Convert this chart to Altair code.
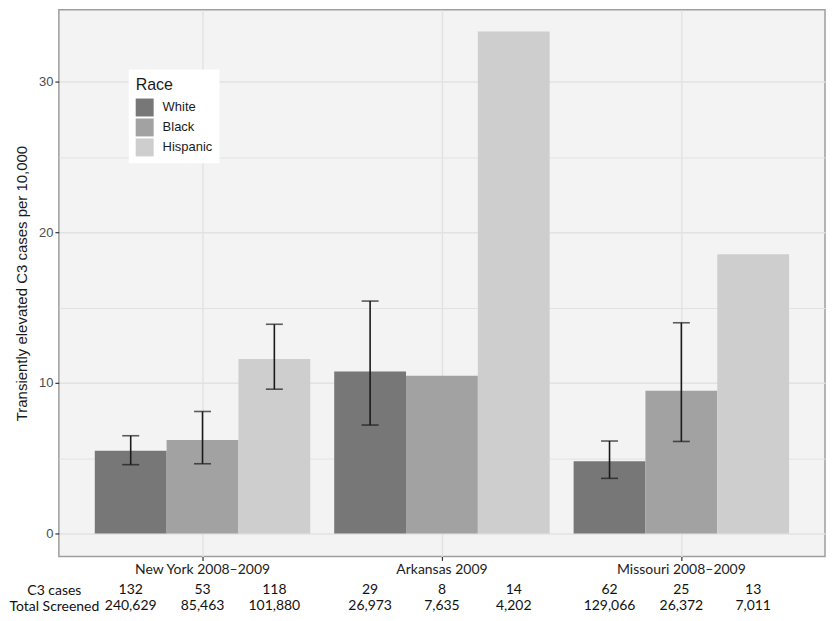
import altair as alt
import pandas as pd

regions = ["New York 2008–2009", "Arkansas 2009", "Missouri 2008–2009"]
races = ["White", "Black", "Hispanic"]
race_colors = ["#777777", "#a2a2a2", "#cecece"]

# rate per 10,000, by region then race
rates = [[5.49, 6.20, 11.58],
         [10.75, 10.48, 33.32],
         [4.80, 9.48, 18.54]]
err_low = [[4.57, 4.63, 9.58],
           [7.20, None, None],
           [3.66, 6.11, None]]
err_high = [[6.49, 8.10, 13.89],
            [15.43, None, None],
            [6.14, 13.99, None]]

row_labels = ["C3 cases", "Total Screened"]
c3_cases = [[132, 53, 118], [29, 8, 14], [62, 25, 13]]
total_screened = [[240629, 85463, 101880], [26973, 7635, 4202], [129066, 26372, 7011]]

bars_rows, err_rows, table_rows = [], [], []
for i, reg in enumerate(regions):
    for j, race in enumerate(races):
        bars_rows.append({"region": reg, "race": race, "rate": rates[i][j]})
        if err_low[i][j] is not None:
            err_rows.append({"region": reg, "race": race,
                             "lo": err_low[i][j], "hi": err_high[i][j]})
        table_rows.append({"row": row_labels[0], "region": reg, "race": race, "value": c3_cases[i][j]})
        table_rows.append({"row": row_labels[1], "region": reg, "race": race, "value": total_screened[i][j]})

bars_df = pd.DataFrame(bars_rows)
err_df = pd.DataFrame(err_rows)
table_df = pd.DataFrame(table_rows)

SANS = "Liberation Sans"
NARROW = "Lato"

x_scale = alt.Scale(paddingInner=0, paddingOuter=0.1)
off_scale = alt.Scale(paddingInner=0, paddingOuter=1 / 6)

x_axis = alt.Axis(domain=False, tickSize=4, tickColor="#333333", tickWidth=1.2,
                  labelFont=NARROW, labelFontSize=14, labelColor="#222222",
                  labelPadding=2, labelAngle=0, bandPosition=0.5,
                  grid=True, gridColor="#e2e2e2", gridWidth=1.4)
x_enc = alt.X("region:N", sort=regions, scale=x_scale, title=None, axis=x_axis)
x_enc_table = alt.X("region:N", sort=regions, scale=x_scale, axis=None)
off_enc = alt.XOffset("race:N", sort=races, scale=off_scale)

y_scale = alt.Scale(domain=[-1.52, 34.77], nice=False, zero=False)

bars = alt.Chart(bars_df).mark_bar().encode(
    x=x_enc,
    xOffset=off_enc,
    y=alt.Y("rate:Q", scale=y_scale,
            title="Transiently elevated C3 cases per 10,000",
            axis=alt.Axis(values=[0, 5, 10, 15, 20, 25, 30], domain=False,
                          labelExpr="datum.value % 10 === 0 ? datum.label : ''",
                          tickOpacity=alt.condition("datum.value % 10 === 0", alt.value(1), alt.value(0)),
                          gridWidth=alt.condition("datum.value % 10 === 0", alt.value(1.5), alt.value(1.0)),
                          tickSize=4, tickColor="#333333", tickWidth=1.2,
                          labelFont=SANS, labelFontSize=13, labelColor="#4d4d4d", labelPadding=2,
                          titleFont=SANS, titleFontSize=15, titleFontWeight="normal",
                          titleColor="#1a1a1a", titlePadding=9,
                          grid=True, gridColor="#e2e2e2")),
    color=alt.Color("race:N", sort=races,
                    scale=alt.Scale(domain=races, range=race_colors),
                    legend=alt.Legend(title="Race", orient="none", legendX=70, legendY=60,
                                      titleFont=SANS, titleFontSize=16, titleFontWeight="normal",
                                      titleColor="#1a1a1a", titlePadding=6,
                                      labelFont=SANS, labelFontSize=13, labelColor="#1a1a1a",
                                      labelOffset=9, symbolType="square", symbolSize=324,
                                      symbolStrokeWidth=0, rowPadding=2,
                                      fillColor="white", padding=7)),
)

err_line = alt.Chart(err_df).mark_rule(color="#1a1a1a", strokeWidth=1.6).encode(
    x=x_enc, xOffset=off_enc,
    y=alt.Y("lo:Q", scale=y_scale), y2="hi:Q",
)
cap_lo = alt.Chart(err_df).mark_tick(color="#1a1a1a", thickness=1.6, size=17).encode(
    x=x_enc, xOffset=off_enc, y=alt.Y("lo:Q", scale=y_scale),
)
cap_hi = alt.Chart(err_df).mark_tick(color="#1a1a1a", thickness=1.6, size=17).encode(
    x=x_enc, xOffset=off_enc, y=alt.Y("hi:Q", scale=y_scale),
)

top = alt.layer(bars, err_line, cap_lo, cap_hi).properties(
    width=768, height=548,
    view=alt.ViewBackground(fill="#f3f3f3", stroke="#9e9e9e", strokeWidth=1.5),
)

table = alt.Chart(table_df).mark_text(font=NARROW, fontSize=14, color="#111111").encode(
    x=x_enc_table,
    xOffset=off_enc,
    y=alt.Y("row:N", sort=row_labels, title=None,
            axis=alt.Axis(domain=False, ticks=False, tickSize=0, grid=False,
                          labelAlign="center", labelPadding=5,
                          labelFont=NARROW, labelFontSize=14, labelColor="#111111")),
    text=alt.Text("value:Q", format=","),
).properties(
    width=768, height=32,
    view=alt.ViewBackground(stroke="transparent"),
)

chart = alt.vconcat(top, table, spacing=4).properties(
    padding=0, background="white"
).resolve_scale(x="shared", xOffset="shared")

chart.save("out.html", embed_options={"renderer": "svg", "actions": False})
